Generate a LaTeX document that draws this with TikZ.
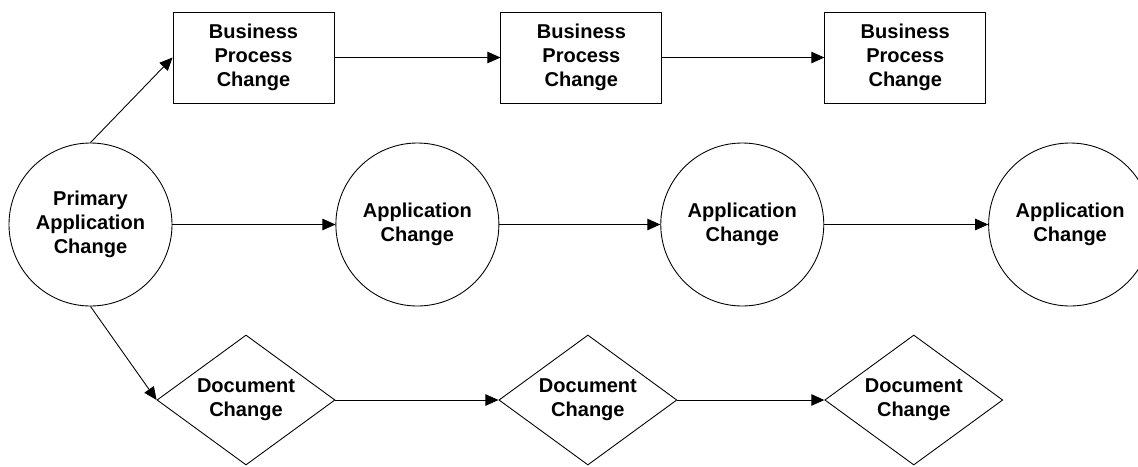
\documentclass[tikz,border=0pt]{standalone}
\usepackage{fontspec}
\setmainfont{Liberation Sans}
\usepackage{tikz}
\usetikzlibrary{positioning,shapes.geometric,arrows.meta}

\tikzset{
	every node/.style={font=\fontsize{11.4}{13.7}\selectfont\bfseries, align=center, line width=0.5pt},
	procbox/.style={draw, rectangle, minimum width=3.22cm, minimum height=1.82cm, inner sep=0pt},
	appcircle/.style={draw, circle, minimum size=3.26cm, inner sep=0pt},
	docdiamond/.style={draw, diamond, aspect=1.37, minimum width=3.56cm, minimum height=2.6cm, inner sep=0pt},
	flow/.style={line width=0.5pt, -{Triangle[length=0.26cm, width=0.23cm]}}
}

\begin{document}
\begin{tikzpicture}
	\useasboundingbox (0,0) rectangle (22.76,-9.32);
	%% primary change
	\node[appcircle] (p0) at (1.81,-4.49) {Primary\\Application\\Change};
	%% row b: business process
	\node[procbox] (b1) at (5.07,-1.15) {Business\\Process\\Change};
	\node[procbox, right =3.32cm of b1] (b2) {Business\\Process\\Change};
	\node[procbox, right =3.24cm of b2] (b3) {Business\\Process\\Change};
	%% row a: application
	\node[appcircle, right =3.26cm of p0] (a1) {Application\\Change};
	\node[appcircle, right =3.22cm of a1] (a2) {Application\\Change};
	\node[appcircle, right =3.28cm of a2] (a3) {Application\\Change};
	%% row d: document
	\node[docdiamond] (d1) at (4.92,-8.0) {Document\\Change};
	\node[docdiamond, right =3.26cm of d1] (d2) {Document\\Change};
	\node[docdiamond, right =2.94cm of d2] (d3) {Document\\Change};
	% connectors
	\draw[flow] (p0.north) -- (b1.west);
	\draw[flow] (p0) -- (a1);
	\draw[flow] (p0.south) -- (d1.west);
	\draw[flow] (b1) -- (b2);
	\draw[flow] (b2) -- (b3);
	\draw[flow] (a1) -- (a2);
	\draw[flow] (a2) -- (a3);
	\draw[flow] (d1) -- (d2);
	\draw[flow] (d2) -- (d3);
\end{tikzpicture}
\end{document}
